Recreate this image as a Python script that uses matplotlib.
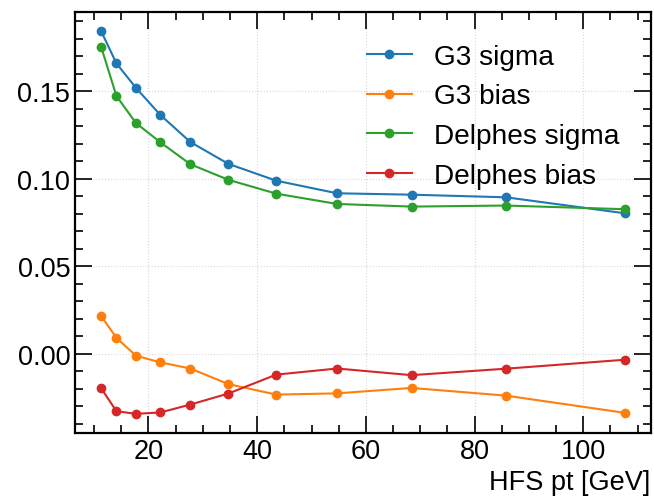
import numpy as np
from matplotlib import pyplot as plt
from matplotlib.ticker import MultipleLocator

plt.rcParams['font.family'] = ['Liberation Sans', 'DejaVu Sans']

# bin centres in HFS pt [GeV]
pt = [11.3, 14.1, 17.7, 22.2, 27.7, 34.7, 43.5, 54.7, 68.4, 85.8, 107.6]

g3_sigma = [0.1843, 0.1659, 0.1519, 0.1364, 0.1210, 0.1085, 0.0989, 0.0917, 0.0909, 0.0894, 0.0803]
g3_bias = [0.0216, 0.0091, -0.0011, -0.0049, -0.0084, -0.0173, -0.0233, -0.0226, -0.0195, -0.0239, -0.0337]
delphes_sigma = [0.1753, 0.1473, 0.1318, 0.1208, 0.1083, 0.0994, 0.0915, 0.0856, 0.0841, 0.0847, 0.0826]
delphes_bias = [-0.0197, -0.0328, -0.0343, -0.0335, -0.0290, -0.0227, -0.0119, -0.0084, -0.0122, -0.0085, -0.0034]

fs = 19.5

fig = plt.figure(figsize=(6.54, 5.02), dpi=100)
ax = fig.add_axes([0.1147, 0.1355, 0.8803, 0.8385])

ax.plot(pt, g3_sigma, marker='o', ms=6, lw=1.5, label='G3 sigma')
ax.plot(pt, g3_bias, marker='o', ms=6, lw=1.5, label='G3 bias')
ax.plot(pt, delphes_sigma, marker='o', ms=6, lw=1.5, label='Delphes sigma')
ax.plot(pt, delphes_bias, marker='o', ms=6, lw=1.5, label='Delphes bias')

ax.xaxis.set_major_locator(MultipleLocator(20))
ax.xaxis.set_minor_locator(MultipleLocator(5))
ax.yaxis.set_major_locator(MultipleLocator(0.05))
ax.yaxis.set_minor_locator(MultipleLocator(0.01))
ax.tick_params(which='both', direction='in', top=True, right=True, labelsize=fs, width=1.2)
ax.tick_params(which='major', length=12)
ax.tick_params(which='minor', length=6)
for s in ax.spines.values():
    s.set_linewidth(1.6)
ax.grid(True, ls=':', color='#d8d8d8', lw=0.8)

ax.set_xlabel('HFS pt [GeV]', loc='right', fontsize=fs)
ax.legend(loc='upper right', bbox_to_anchor=(0.99, 0.985), frameon=False, fontsize=20.2,
          handlelength=1.6, handletextpad=0.8, labelspacing=0.49)

plt.savefig('out.png', dpi=100)
